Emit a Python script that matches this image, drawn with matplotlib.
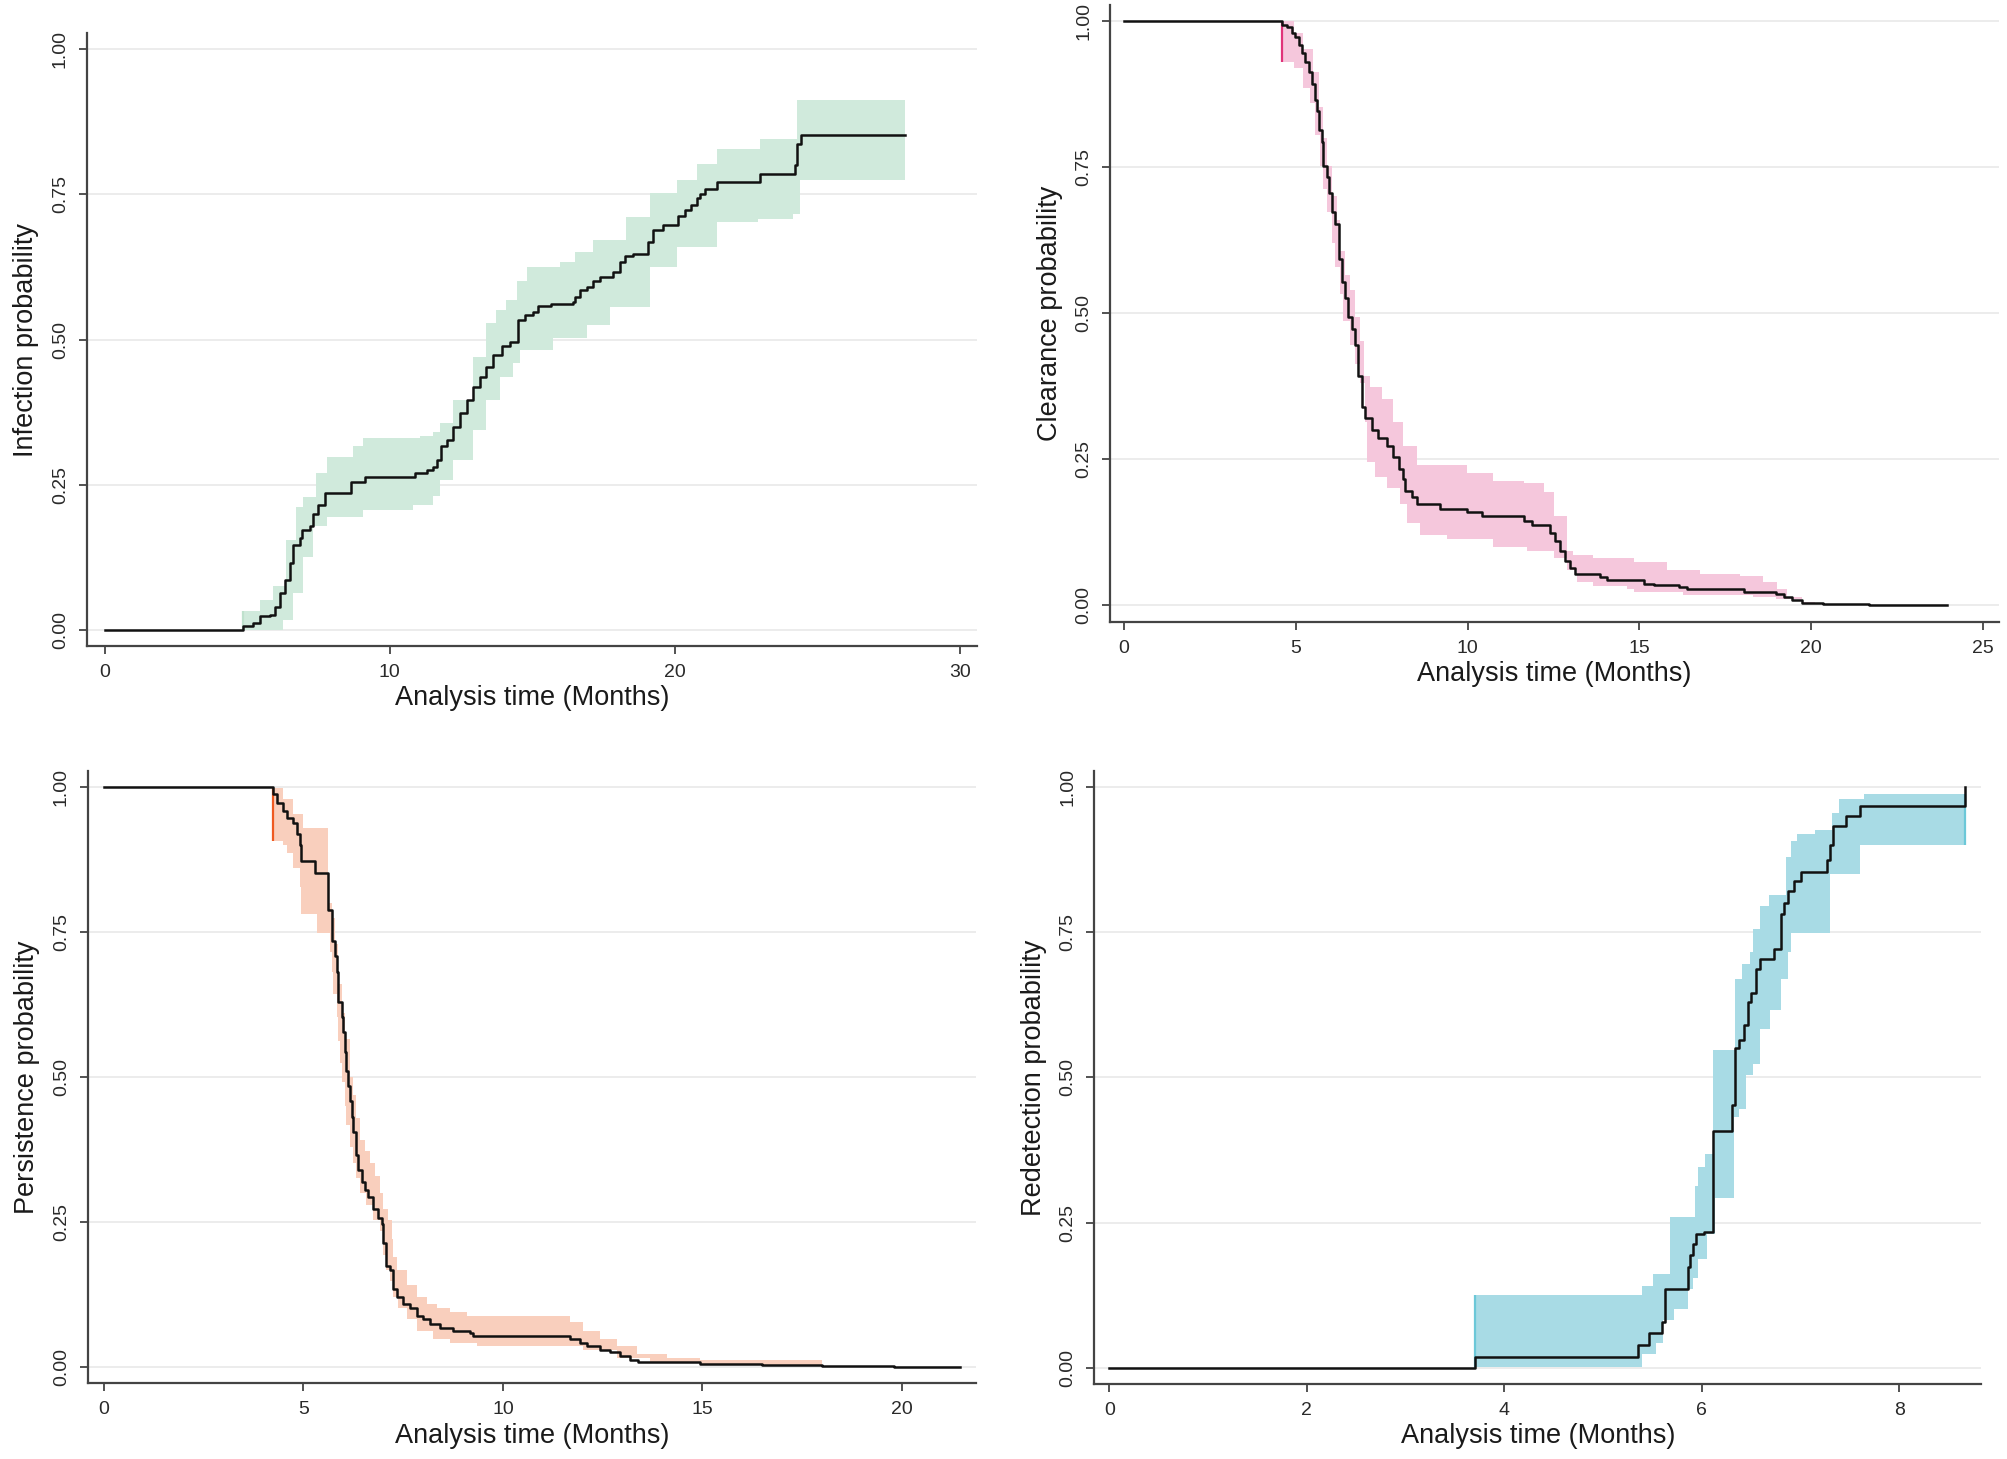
import numpy as np
import matplotlib
matplotlib.use("Agg")
import matplotlib.pyplot as plt

plt.rcParams['font.family'] = ['Liberation Sans', 'DejaVu Sans']

# ---- Infection (top left) ----
infection_t = [0, 4.85, 5.20, 5.44, 5.79, 5.96, 6.14, 6.32, 6.49, 6.61, 6.84, 6.90, 7.19, 7.31,
               7.49, 7.72, 8.65, 9.12, 10.88, 11.29, 11.52, 11.64, 11.81, 11.99, 12.22, 12.46,
               12.69, 12.93, 13.16, 13.39, 13.63, 13.92, 14.21, 14.50, 14.74, 15.03, 15.21,
               15.67, 16.43, 16.49, 16.67, 16.90, 17.13, 17.37, 17.84, 18.07, 18.25, 18.54,
               19.07, 19.24, 19.59, 20.12, 20.35, 20.58, 20.76, 20.88, 21.05, 21.46, 22.98,
               24.21, 24.27, 24.41, 28.07]
infection_p = [0, 0.006, 0.011, 0.023, 0.026, 0.040, 0.063, 0.086, 0.115, 0.146, 0.158, 0.172,
               0.178, 0.200, 0.215, 0.236, 0.254, 0.264, 0.270, 0.275, 0.281, 0.293, 0.316,
               0.327, 0.350, 0.373, 0.396, 0.419, 0.436, 0.453, 0.473, 0.488, 0.496, 0.534,
               0.542, 0.548, 0.557, 0.561, 0.565, 0.574, 0.585, 0.591, 0.600, 0.608, 0.617,
               0.634, 0.643, 0.648, 0.668, 0.688, 0.697, 0.712, 0.723, 0.731, 0.743, 0.751,
               0.760, 0.771, 0.785, 0.800, 0.837, 0.852, 0.852]
infection_hi_t = [4.85, 5.44, 5.91, 6.37, 6.72, 6.96, 7.42, 7.78, 8.71, 9.06, 11.05, 11.52, 11.75,
                  12.22, 12.93, 13.39, 13.74, 14.09, 14.45, 14.80, 15.96, 16.50, 17.13, 18.30,
                  19.12, 20.06, 20.76, 21.46, 22.98, 24.27, 28.07]
infection_hi = [0.032, 0.052, 0.075, 0.155, 0.212, 0.229, 0.270, 0.298, 0.316, 0.330, 0.333,
                0.341, 0.356, 0.396, 0.470, 0.528, 0.551, 0.568, 0.600, 0.625, 0.634, 0.650,
                0.671, 0.711, 0.752, 0.775, 0.803, 0.829, 0.846, 0.913, 0.913]
infection_lo_t = [4.85, 6.26, 6.61, 6.96, 7.31, 7.78, 9.06, 10.82, 11.52, 11.75, 12.22, 12.93,
                  13.39, 13.86, 14.32, 14.56, 15.73, 16.90, 17.72, 19.12, 20.06, 21.46, 22.92,
                  24.15, 24.38, 28.07]
infection_lo = [0.0, 0.017, 0.063, 0.126, 0.178, 0.195, 0.207, 0.215, 0.230, 0.258, 0.293,
                0.344, 0.396, 0.436, 0.459, 0.482, 0.502, 0.525, 0.556, 0.625, 0.659, 0.702,
                0.708, 0.717, 0.774, 0.774]

# ---- Clearance (top right) ----
clearance_t = [0, 4.59, 4.74, 4.88, 4.98, 5.08, 5.17, 5.27, 5.37, 5.46, 5.56, 5.61, 5.66, 5.75,
               5.80, 5.90, 5.95, 6.05, 6.14, 6.24, 6.34, 6.43, 6.53, 6.63, 6.72, 6.82, 6.92,
               7.02, 7.21, 7.40, 7.65, 7.84, 7.99, 8.13, 8.18, 8.37, 8.52, 9.20, 9.98, 10.41,
               11.63, 11.87, 12.40, 12.55, 12.69, 12.84, 12.98, 13.13, 13.86, 14.05, 15.12,
               15.41, 16.14, 16.38, 18.05, 18.97, 19.21, 19.45, 19.74, 20.33, 21.67, 23.95]
clearance_p = [1.0, 0.993, 0.990, 0.980, 0.973, 0.960, 0.946, 0.930, 0.913, 0.893, 0.866, 0.846,
               0.813, 0.793, 0.753, 0.733, 0.706, 0.673, 0.653, 0.593, 0.553, 0.526, 0.493,
               0.473, 0.446, 0.393, 0.340, 0.320, 0.300, 0.287, 0.273, 0.253, 0.233, 0.216,
               0.196, 0.186, 0.173, 0.165, 0.159, 0.152, 0.145, 0.138, 0.123, 0.110, 0.093,
               0.076, 0.063, 0.053, 0.049, 0.043, 0.037, 0.034, 0.032, 0.027, 0.023, 0.020,
               0.014, 0.009, 0.004, 0.002, 0.0, 0.0]
clearance_hi_t = [4.59, 4.93, 5.22, 5.51, 5.66, 5.80, 5.90, 6.05, 6.19, 6.29, 6.43, 6.58, 6.72,
                  6.87, 6.97, 7.16, 7.50, 7.84, 8.13, 8.52, 9.98, 10.75, 11.63, 12.21, 12.50,
                  12.89, 13.08, 13.66, 14.83, 15.80, 16.77, 17.93, 18.60, 18.99, 19.29, 19.74,
                  20.10, 20.33]
clearance_hi = [1.0, 0.980, 0.953, 0.913, 0.853, 0.800, 0.753, 0.700, 0.660, 0.606, 0.566,
                0.540, 0.493, 0.453, 0.393, 0.373, 0.353, 0.313, 0.273, 0.240, 0.226, 0.213,
                0.210, 0.193, 0.153, 0.093, 0.086, 0.080, 0.074, 0.060, 0.054, 0.050, 0.040,
                0.028, 0.014, 0.006, 0.002, 0.002]
clearance_lo_t = [4.59, 4.93, 5.22, 5.41, 5.56, 5.71, 5.80, 5.90, 6.05, 6.14, 6.29, 6.38, 6.58,
                  6.72, 6.87, 7.02, 7.06, 7.31, 7.65, 8.03, 8.23, 8.62, 9.39, 10.75, 11.72,
                  12.50, 12.89, 13.18, 13.66, 14.63, 14.83, 16.28, 18.30, 18.97, 19.74, 20.33]
clearance_lo = [0.930, 0.920, 0.886, 0.860, 0.806, 0.753, 0.713, 0.673, 0.620, 0.580, 0.533,
                0.486, 0.446, 0.413, 0.380, 0.313, 0.246, 0.220, 0.200, 0.173, 0.140, 0.120,
                0.113, 0.100, 0.093, 0.080, 0.060, 0.040, 0.033, 0.027, 0.023, 0.017, 0.014,
                0.011, 0.003, 0.001]

# ---- Persistence (bottom left) ----
persistence_t = [0, 4.24, 4.33, 4.49, 4.58, 4.75, 4.83, 4.91, 4.95, 5.29, 5.62, 5.71, 5.79,
                 5.83, 5.87, 5.96, 6.00, 6.04, 6.08, 6.12, 6.17, 6.21, 6.25, 6.33, 6.37, 6.46,
                 6.54, 6.62, 6.75, 6.88, 6.96, 7.00, 7.08, 7.17, 7.25, 7.34, 7.50, 7.67, 7.84,
                 8.00, 8.17, 8.42, 8.75, 9.17, 9.26, 11.68, 11.93, 12.10, 12.43, 12.68, 12.93,
                 13.18, 13.39, 14.10, 14.94, 16.50, 18.00, 19.80, 21.45]
persistence_p = [1.0, 0.989, 0.972, 0.959, 0.946, 0.939, 0.920, 0.900, 0.873, 0.852, 0.788,
                 0.735, 0.709, 0.682, 0.629, 0.603, 0.577, 0.544, 0.511, 0.484, 0.458, 0.431,
                 0.405, 0.365, 0.339, 0.319, 0.306, 0.293, 0.273, 0.257, 0.247, 0.214, 0.174,
                 0.167, 0.134, 0.121, 0.108, 0.102, 0.088, 0.082, 0.075, 0.068, 0.062, 0.059,
                 0.054, 0.049, 0.042, 0.036, 0.029, 0.026, 0.019, 0.012, 0.009, 0.008, 0.006,
                 0.004, 0.002, 0.0, 0.0]
persistence_hi_t = [4.24, 4.49, 4.75, 5.00, 5.62, 5.71, 5.79, 5.87, 5.96, 6.04, 6.17, 6.25, 6.33,
                    6.42, 6.54, 6.67, 6.79, 6.92, 7.00, 7.13, 7.21, 7.25, 7.34, 7.59, 7.84, 8.09,
                    8.34, 8.67, 9.09, 11.51, 11.68, 12.01, 12.43, 12.85, 13.35, 14.10, 14.94,
                    18.00]
persistence_hi = [0.999, 0.979, 0.953, 0.930, 0.800, 0.775, 0.730, 0.660, 0.610, 0.565, 0.500,
                  0.470, 0.430, 0.392, 0.372, 0.352, 0.330, 0.300, 0.273, 0.254, 0.221, 0.190,
                  0.167, 0.141, 0.121, 0.108, 0.102, 0.095, 0.088, 0.088, 0.078, 0.062, 0.049,
                  0.036, 0.023, 0.016, 0.012, 0.012]
persistence_lo_t = [4.24, 4.49, 4.58, 4.75, 4.91, 4.95, 5.33, 5.66, 5.71, 5.75, 5.83, 5.87, 5.91,
                    5.96, 6.04, 6.08, 6.17, 6.25, 6.33, 6.42, 6.58, 6.75, 6.92, 7.00, 7.08, 7.17,
                    7.25, 7.38, 7.59, 7.84, 8.25, 8.67, 9.34, 12.01, 12.85, 13.68, 14.94, 16.00,
                    18.00]
persistence_lo = [0.907, 0.900, 0.887, 0.860, 0.827, 0.781, 0.748, 0.715, 0.682, 0.643, 0.603,
                  0.563, 0.524, 0.491, 0.451, 0.418, 0.379, 0.352, 0.326, 0.300, 0.280, 0.254,
                  0.234, 0.194, 0.168, 0.148, 0.121, 0.102, 0.082, 0.062, 0.049, 0.042, 0.036,
                  0.029, 0.016, 0.009, 0.006, 0.003, 0.003]

# ---- Redetection (bottom right) ----
redetection_t = [0, 3.70, 5.36, 5.47, 5.60, 5.63, 5.86, 5.88, 5.91, 5.94, 6.02, 6.11, 6.31, 6.34,
                 6.38, 6.43, 6.47, 6.50, 6.55, 6.59, 6.73, 6.80, 6.83, 6.87, 6.94, 7.01, 7.27,
                 7.30, 7.33, 7.46, 7.60, 8.67]
redetection_p = [0, 0.019, 0.039, 0.059, 0.079, 0.135, 0.174, 0.194, 0.214, 0.230, 0.234, 0.407,
                 0.452, 0.551, 0.564, 0.590, 0.630, 0.646, 0.686, 0.704, 0.722, 0.782, 0.801,
                 0.821, 0.838, 0.854, 0.874, 0.900, 0.933, 0.950, 0.968, 1.0]
redetection_hi_t = [3.70, 5.40, 5.51, 5.68, 5.93, 5.96, 6.03, 6.11, 6.34, 6.41, 6.49, 6.52, 6.59,
                    6.68, 6.85, 6.90, 6.97, 7.15, 7.32, 7.39, 7.64, 8.67]
redetection_hi = [0.125, 0.141, 0.161, 0.260, 0.313, 0.346, 0.369, 0.547, 0.669, 0.696, 0.716,
                  0.755, 0.795, 0.814, 0.880, 0.907, 0.919, 0.926, 0.956, 0.979, 0.989, 0.989]
redetection_lo_t = [3.70, 5.40, 5.54, 5.61, 5.72, 5.86, 5.91, 5.96, 6.05, 6.14, 6.33, 6.38, 6.45,
                    6.52, 6.59, 6.69, 6.80, 6.87, 6.90, 7.30, 7.60, 8.67]
redetection_lo = [0.002, 0.023, 0.042, 0.082, 0.102, 0.135, 0.155, 0.188, 0.230, 0.293, 0.432,
                  0.445, 0.504, 0.524, 0.583, 0.617, 0.669, 0.716, 0.748, 0.850, 0.900, 0.900]

y_ticks = [0, 0.25, 0.5, 0.75, 1.0]
y_tick_labels = ['0.00', '0.25', '0.50', '0.75', '1.00']


def step_at(tt, src_t, src_v):
    # value of a right-continuous step function at times tt
    idx = np.searchsorted(src_t, tt, side='right') - 1
    return np.asarray(src_v)[np.clip(idx, 0, None)]


def km_panel(ax, t, p, lo_t, lo, hi_t, hi, fill, edge, ylabel, xticks, xlim, end_edge=False):
    grid = np.union1d(lo_t, hi_t)
    band_lo = step_at(grid, lo_t, lo)
    band_hi = step_at(grid, hi_t, hi)
    ax.fill_between(grid, band_lo, band_hi, step='post', color=fill, lw=0, zorder=2)
    # coloured edge where the band opens (and closes, for the last panel)
    ax.vlines(grid[0], band_lo[0], band_hi[0], color=edge, lw=1.6, zorder=2)
    if end_edge:
        ax.vlines(grid[-1], band_lo[-1], band_hi[-1], color=edge, lw=1.6, zorder=2)
    ax.step(t, p, where='post', color='#111111', lw=1.8, zorder=3)

    ax.set_xlim(*xlim)
    ax.set_ylim(-0.028, 1.028)
    ax.set_xticks(xticks)
    ax.set_yticks(y_ticks)
    ax.set_yticklabels(y_tick_labels)
    ax.yaxis.grid(True, color='#ebebeb', lw=1.3)
    ax.set_axisbelow(True)
    for side in ['top', 'right']:
        ax.spines[side].set_visible(False)
    for side in ['left', 'bottom']:
        ax.spines[side].set_color('#444444')
        ax.spines[side].set_linewidth(1.6)
    ax.tick_params(axis='both', length=6, width=1.3, color='#444444',
                   labelsize=14, labelcolor='#2a2a2a')
    ax.tick_params(axis='y', labelrotation=90, pad=7)
    ax.tick_params(axis='x', pad=7)
    for lab in ax.get_yticklabels():
        lab.set_va('center')
    ax.set_xlabel('Analysis time (Months)', fontsize=19.5, color='#1a1a1a', labelpad=3)
    ax.set_ylabel(ylabel, fontsize=19.5, color='#1a1a1a', labelpad=9)


fig = plt.figure(figsize=(20.07, 14.59), dpi=100)

ax1 = fig.add_axes([0.0433, 0.5572, 0.4435, 0.4202])
km_panel(ax1, infection_t, infection_p, infection_lo_t, infection_lo, infection_hi_t,
         infection_hi, '#d0eadc', '#bfe1cd', 'Infection probability', [0, 10, 20, 30],
         (-0.63, 30.6))

ax2 = fig.add_axes([0.5531, 0.574, 0.4428, 0.4226])
km_panel(ax2, clearance_t, clearance_p, clearance_lo_t, clearance_lo, clearance_hi_t,
         clearance_hi, '#f5c7dc', '#e0337a', 'Clearance probability', [0, 5, 10, 15, 20, 25],
         (-0.41, 25.46))

ax3 = fig.add_axes([0.0438, 0.0519, 0.4424, 0.4197])
km_panel(ax3, persistence_t, persistence_p, persistence_lo_t, persistence_lo, persistence_hi_t,
         persistence_hi, '#f9cfbd', '#ef5a22', 'Persistence probability', [0, 5, 10, 15, 20],
         (-0.40, 21.85))

ax4 = fig.add_axes([0.5453, 0.0514, 0.4418, 0.4202])
km_panel(ax4, redetection_t, redetection_p, redetection_lo_t, redetection_lo, redetection_hi_t,
         redetection_hi, '#a8dbe5', '#6cc8d8', 'Redetection probability', [0, 2, 4, 6, 8],
         (-0.15, 8.83), end_edge=True)

fig.savefig('out.png', dpi=100, facecolor='white')
